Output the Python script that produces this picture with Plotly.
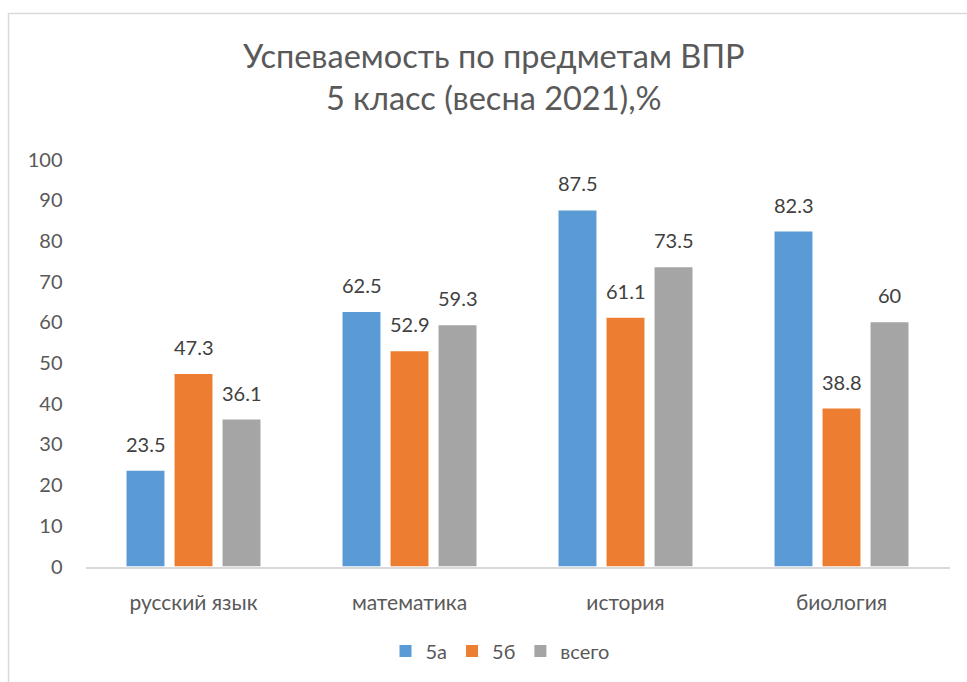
import plotly.graph_objects as go

categories = ["русский язык", "математика", "история", "биология"]
series_names = ["5а", "5б", "всего"]
values_5a = [23.5, 62.5, 87.5, 82.3]
values_5b = [47.3, 52.9, 61.1, 38.8]
values_all = [36.1, 59.3, 73.5, 60]
colors = ["#5B9BD5", "#ED7D31", "#A5A5A5"]

W, H = 967, 682
FONT = "Lato"
TXT = "#595959"

series = [values_5a, values_5b, values_all]
fig = go.Figure()
for name, vals, col in zip(series_names, series, colors):
    fig.add_trace(go.Bar(x=categories, y=vals, name=name, marker_color=col,
                         marker_line_width=0))

# data labels
slot = 48
for i, vals in enumerate(series):
    for c, v in zip(categories, vals):
        fig.add_annotation(x=c, y=v, xref="x", yref="y", text=f"{v:g}",
                           showarrow=False, yanchor="bottom", xshift=(i - 1) * slot,
                           yshift=13, font=dict(family=FONT, size=20, color="#404040"))

# title
fig.add_annotation(x=494 / W, y=1 - 76 / H, xref="paper", yref="paper",
                   text="Успеваемость по предметам ВПР<br>5 класс (весна 2021),%",
                   showarrow=False, xanchor="center", yanchor="middle",
                   font=dict(family=FONT, size=32.5, color=TXT))

# chart border
fig.add_shape(type="rect", xref="paper", yref="paper",
              x0=8.5 / W, x1=1.05, y0=-0.05, y1=1 - 13.5 / H,
              line=dict(color="#D9D9D9", width=1.5), fillcolor="rgba(0,0,0,0)")

fig.update_layout(
    template="none",
    width=W, height=H, autosize=False,
    margin=dict(l=0, r=0, t=0, b=0, pad=0, autoexpand=False),
    paper_bgcolor="white", plot_bgcolor="white",
    barmode="group", bargap=0.333, bargroupgap=0.21,
    font=dict(family=FONT, size=20, color=TXT),
    showlegend=True,
    legend=dict(orientation="h", x=500 / W, xanchor="center", y=1 - 651 / H,
                yanchor="middle", font=dict(family=FONT, size=20, color=TXT),
                itemwidth=30, traceorder="normal", bgcolor="rgba(0,0,0,0)"),
    xaxis=dict(domain=[85.5 / W, 949.5 / W], showline=True, linecolor="#D9D9D9",
               linewidth=1.5, showgrid=False, ticks="", ticklabelstandoff=17,
               automargin=False,
               tickfont=dict(family=FONT, size=21, color=TXT)),
    yaxis=dict(domain=[1 - 566.5 / H, 1 - 159.5 / H], range=[0, 100], dtick=10,
               tick0=0, showgrid=False, showline=False, zeroline=False, ticks="",
               ticklabelstandoff=22, automargin=False,
               tickfont=dict(family=FONT, size=20, color=TXT)),
)

fig.write_html("out.html", config={"displayModeBar": False},
               post_script="document.body.style.margin='0';"
                           "document.body.style.overflow='hidden';")
